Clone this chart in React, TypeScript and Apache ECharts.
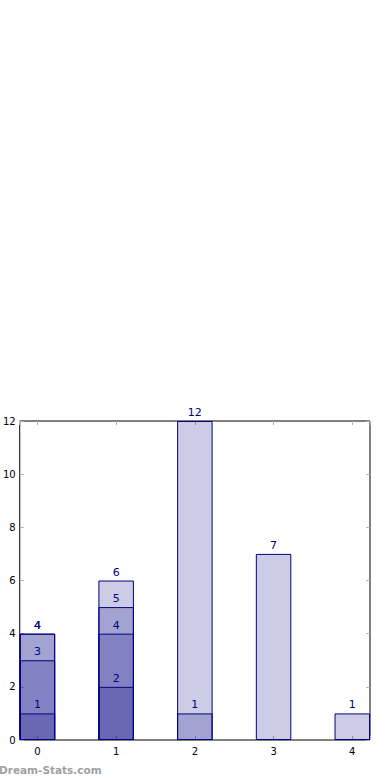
import React, { useEffect, useRef } from "react";
import * as echarts from "echarts";

// x categories (numeric positions) and overlapping bar layers (tallest first)
const categories = [0, 1, 2, 3, 4];
const layer1 = [4, 6, 12, 7, 1];
const layer2 = [4, 5, 1, null, null];
const layer3 = [3, 4, null, null, null];
const layer4 = [1, 2, null, null, null];
const yTicks = [0, 2, 4, 6, 8, 10, 12];

const layers = [layer1, layer2, layer3, layer4];

export default function App() {
  const ref = useRef<HTMLDivElement>(null);
  useEffect(() => {
    if (!ref.current) return;
    const chart = echarts.init(ref.current, null, { renderer: "svg" });
    const gridLeft = 19;
    const gridRight = 20;
    const gridWidth = 390 - gridLeft - gridRight;
    const xMin = -0.225;
    const xMax = 4.225;
    const barW = (gridWidth / (xMax - xMin)) * 0.45;
    const font = "DejaVu Sans";
    const tickStyle = { show: true, inside: true, length: 4, lineStyle: { color: "#b0b0b0", width: 1 } };
    const intLabel = (v: number) => (Math.abs(v - Math.round(v)) < 1e-6 ? String(Math.round(v)) : "");
    const series = layers.map((arr) => ({
      type: "bar",
      xAxisIndex: 0,
      yAxisIndex: 0,
      barWidth: barW,
      barGap: "-100%",
      data: categories
        .map((c, i) => (arr[i] == null ? null : [c, arr[i]]))
        .filter((d) => d !== null),
      itemStyle: { color: "rgba(0,0,128,0.2)", borderColor: "#000080", borderWidth: 1 },
      label: {
        show: true,
        position: "top",
        distance: 3,
        color: "#000080",
        fontFamily: font,
        fontSize: 11,
        formatter: (p: any) => String(p.value[1]),
      },
    }));
    const noLine = { show: false, onZero: false };
    chart.setOption({
      animation: false,
      backgroundColor: "#ffffff",
      grid: {
        left: gridLeft,
        right: gridRight,
        top: 421,
        bottom: 40,
        show: true,
        borderColor: "#000000",
        borderWidth: 1,
        backgroundColor: "transparent",
      },
      xAxis: [
        {
          type: "value",
          min: xMin,
          max: xMax,
          splitNumber: 5,
          position: "bottom",
          axisLine: noLine,
          axisTick: tickStyle,
          splitLine: { show: false },
          axisLabel: { formatter: intLabel, color: "#000", fontFamily: font, fontSize: 10, margin: 6 },
        },
        {
          type: "value",
          min: xMin,
          max: xMax,
          splitNumber: 5,
          position: "top",
          axisLine: noLine,
          axisTick: tickStyle,
          splitLine: { show: false },
          axisLabel: { show: false },
        },
      ],
      yAxis: [
        {
          type: "value",
          min: yTicks[0],
          max: yTicks[yTicks.length - 1],
          interval: 2,
          position: "left",
          axisLine: noLine,
          axisTick: tickStyle,
          splitLine: { show: false },
          axisLabel: { color: "#000", fontFamily: font, fontSize: 10, margin: 4 },
        },
        {
          type: "value",
          min: yTicks[0],
          max: yTicks[yTicks.length - 1],
          interval: 2,
          position: "right",
          axisLine: noLine,
          axisTick: tickStyle,
          splitLine: { show: false },
          axisLabel: { show: false },
        },
      ],
      graphic: [
        {
          type: "text",
          left: -1,
          top: 764,
          style: {
            text: "Dream-Stats.com",
            fill: "#a0a0a0",
            font: "bold 10.5px 'DejaVu Sans'",
          },
        },
      ],
      series,
    });
    return () => chart.dispose();
  }, []);
  return (
    <div
      ref={ref}
      style={{ position: "fixed", left: 0, top: 0, width: 390, height: 780 }}
    />
  );
}
